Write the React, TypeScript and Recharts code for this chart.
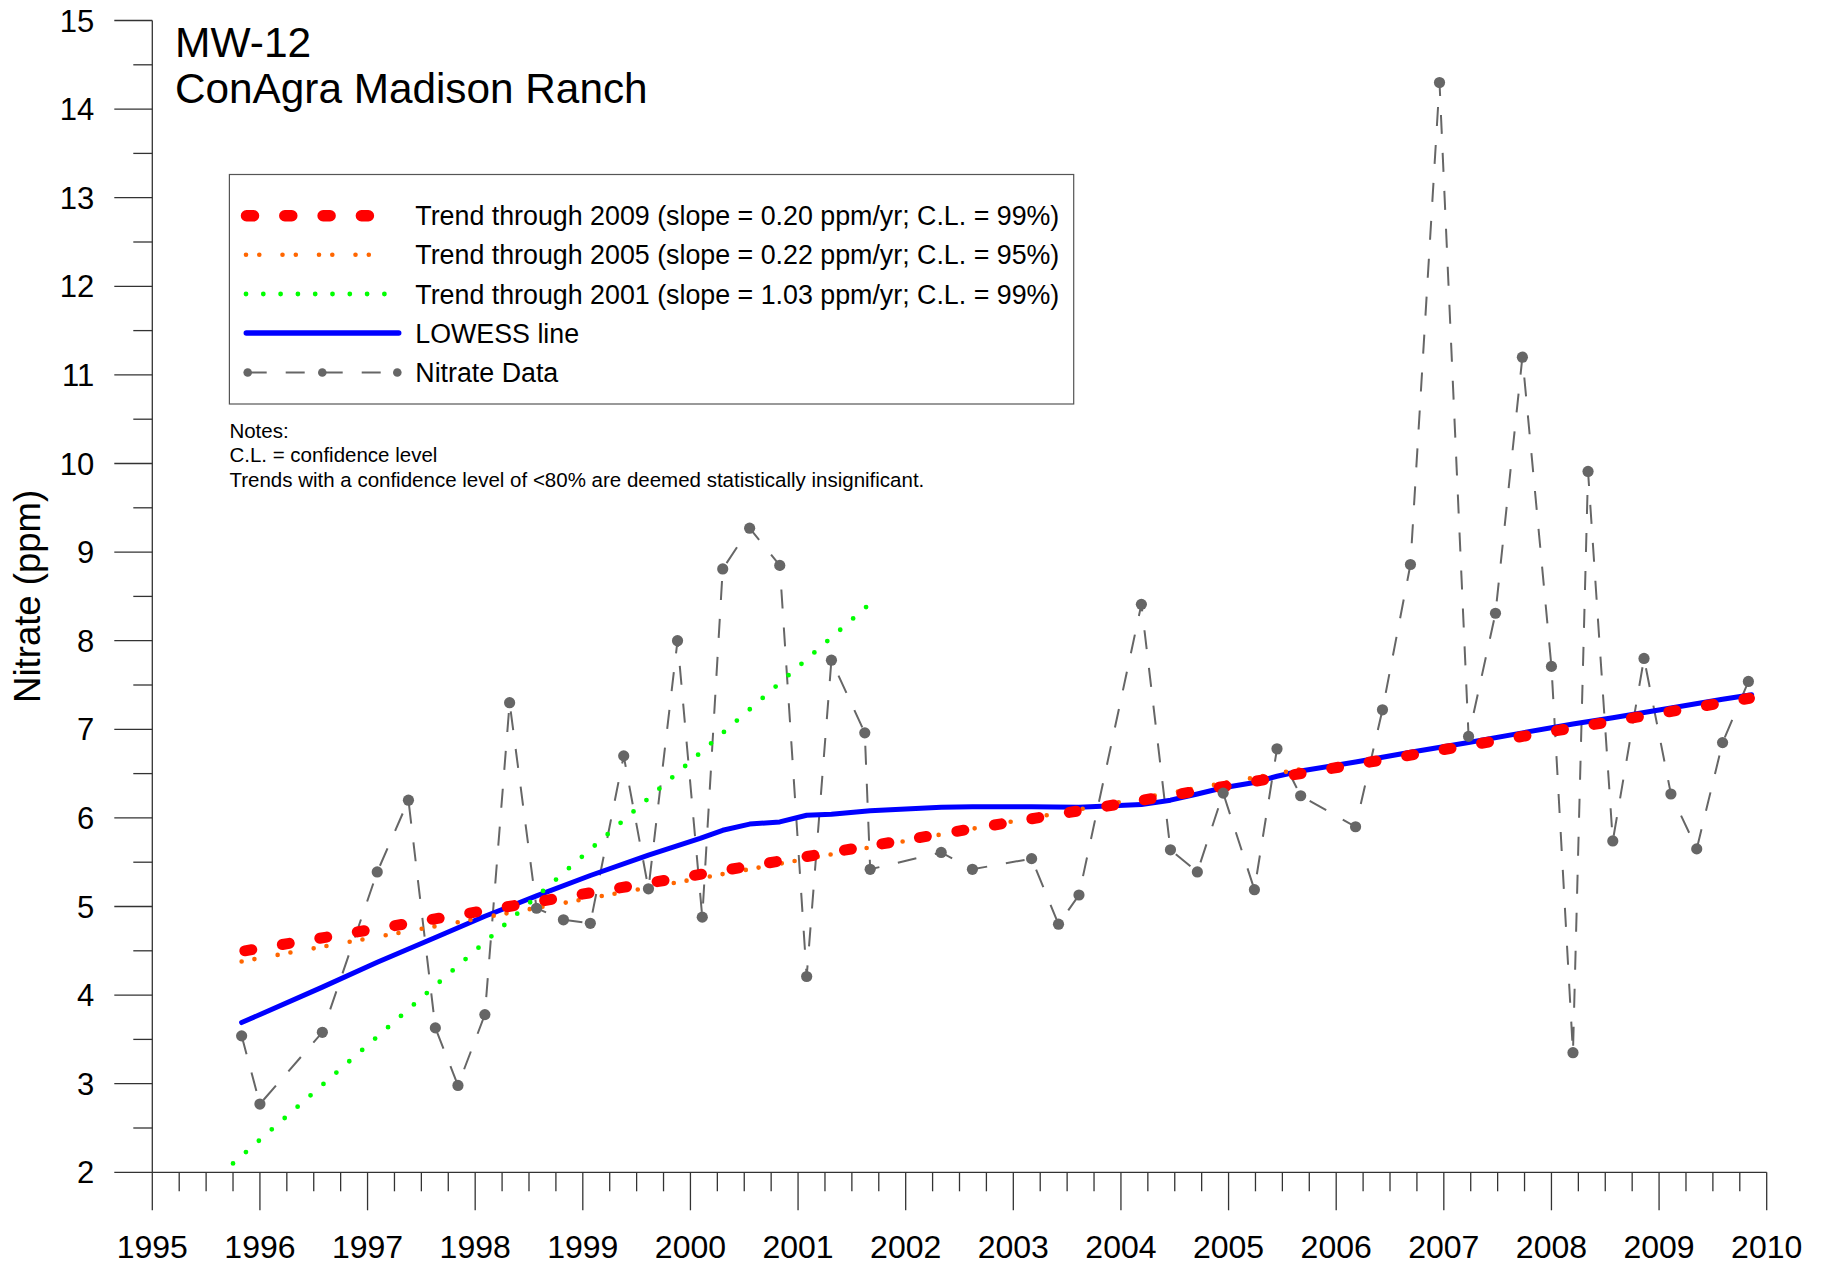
import React from 'react';
import { LineChart, Line, XAxis, YAxis } from 'recharts';

// ---- Data ----
const nitrateDates = [
  1995.83, 1996.0, 1996.58, 1997.09, 1997.38, 1997.63, 1997.84, 1998.09, 1998.32, 1998.57,
  1998.82, 1999.07, 1999.38, 1999.61, 1999.88, 2000.11, 2000.3, 2000.55, 2000.83, 2001.08,
  2001.31, 2001.62, 2001.67, 2002.33, 2002.62, 2003.17, 2003.42, 2003.61, 2004.19, 2004.46,
  2004.71, 2004.95, 2005.24, 2005.45, 2005.67, 2006.18, 2006.43, 2006.69, 2006.96, 2007.23,
  2007.48, 2007.73, 2008.0, 2008.2, 2008.34, 2008.57, 2008.86, 2009.11, 2009.35, 2009.59,
  2009.83,
];
const nitrateValues = [
  3.54, 2.77, 3.58, 5.39, 6.2, 3.63, 2.98, 3.78, 7.3, 4.98,
  4.85, 4.81, 6.7, 5.2, 8.0, 4.88, 8.81, 9.27, 8.85, 4.21,
  7.78, 6.96, 5.42, 5.61, 5.42, 5.54, 4.8, 5.13, 8.41, 5.64,
  5.39, 6.28, 5.19, 6.78, 6.25, 5.9, 7.22, 8.86, 14.3, 6.92,
  8.31, 11.2, 7.71, 3.35, 9.91, 5.74, 7.8, 6.27, 5.65, 6.85,
  7.54,
];

const lowessDates = [
  1995.83, 1996.58, 1997.09, 1997.63, 1998.09, 1998.57, 1999.07, 1999.61, 2000.09, 2000.3,
  2000.55, 2000.83, 2001.08, 2001.31, 2001.67, 2002.33, 2002.62, 2003.17, 2003.61, 2004.19,
  2004.46, 2004.71, 2004.95, 2005.24, 2005.45, 2005.67, 2006.18, 2006.69, 2007.23, 2007.73,
  2008.2, 2008.57, 2009.11, 2009.59, 2009.86,
];
const lowessValues = [
  3.69, 4.09, 4.37, 4.65, 4.89, 5.12, 5.35, 5.58, 5.77, 5.86,
  5.93, 5.955, 6.03, 6.04, 6.08, 6.12, 6.125, 6.125, 6.12, 6.15,
  6.2, 6.27, 6.34, 6.4, 6.47, 6.53, 6.63, 6.74, 6.85, 6.96,
  7.06, 7.13, 7.24, 7.34, 7.39,
];

const trend2009Dates = [1995.86, 2009.84];
const trend2009Values = [4.5, 7.35];
const trend2005Dates = [1995.83, 2005.67];
const trend2005Values = [4.38, 6.55];
const trend2001Dates = [1995.75, 2001.66];
const trend2001Values = [2.1, 8.41];

const yearTicks = [1995, 1996, 1997, 1998, 1999, 2000, 2001, 2002, 2003, 2004, 2005, 2006, 2007, 2008, 2009, 2010];
const quarterOffsets = [0, 0.25, 0.5, 0.75];
const valueTicks = [2, 3, 4, 5, 6, 7, 8, 9, 10, 11, 12, 13, 14, 15];
const halfOffsets = [0, 0.5];

const legendLabels = [
  'Trend through 2009 (slope = 0.20 ppm/yr; C.L. = 99%)',
  'Trend through 2005 (slope = 0.22 ppm/yr; C.L. = 95%)',
  'Trend through 2001 (slope = 1.03 ppm/yr; C.L. = 99%)',
  'LOWESS line',
  'Nitrate Data',
];
const notes = [
  'Notes:',
  'C.L. = confidence level',
  'Trends with a confidence level of <80% are deemed statistically insignificant.',
];

// ---- Derived tables ----
const zip = (ds: number[], vs: number[]) => ds.map((d, i) => ({ date: d, value: vs[i] }));
const nitrateData = zip(nitrateDates, nitrateValues);
const lowessData = zip(lowessDates, lowessValues);
const trend2009Data = zip(trend2009Dates, trend2009Values);
const trend2005Data = zip(trend2005Dates, trend2005Values);
const trend2001Data = zip(trend2001Dates, trend2001Values);

const xTicks: number[] = [];
yearTicks.forEach((y, i) => {
  quarterOffsets.forEach((q) => {
    if (i < yearTicks.length - 1 || q === 0) xTicks.push(y + q);
  });
});
const yTicks: number[] = [];
valueTicks.forEach((v, i) => {
  halfOffsets.forEach((h) => {
    if (i < valueTicks.length - 1 || h === 0) yTicks.push(v + h);
  });
});

const FONT = '"Liberation Sans", Arial, Helvetica, sans-serif';
const AXIS = '#333333';

const XTick = (props: any) => {
  const { x, y, payload } = props;
  const v = payload.value as number;
  const major = Math.abs(v - Math.round(v)) < 1e-6;
  return (
    <g>
      <line x1={x} x2={x} y1={y} y2={y + (major ? 38 : 19)} stroke={AXIS} strokeWidth={1.3} />
      {major && (
        <text x={x} y={y + 86} textAnchor="middle" fontSize={32} fontFamily={FONT} fill="#000">
          {Math.round(v)}
        </text>
      )}
    </g>
  );
};

const YTick = (props: any) => {
  const { x, y, payload } = props;
  const v = payload.value as number;
  const major = Math.abs(v - Math.round(v)) < 1e-6;
  return (
    <g>
      <line x1={x - (major ? 38 : 19)} x2={x} y1={y} y2={y} stroke={AXIS} strokeWidth={1.3} />
      {major && (
        <text x={x - 58} y={y + 11} textAnchor="end" fontSize={31} fontFamily={FONT} fill="#000">
          {Math.round(v)}
        </text>
      )}
    </g>
  );
};

const YLabel = (props: any) => {
  const vb = props.viewBox || { y: 20.5, height: 1151.8 };
  const cy = vb.y + vb.height / 2;
  const cx = 28;
  return (
    <text
      x={cx}
      y={cy}
      transform={`rotate(-90 ${cx} ${cy})`}
      textAnchor="middle"
      dominantBaseline="central"
      fontSize={36.5}
      fontFamily={FONT}
      fill="#000"
    >
      Nitrate (ppm)
    </text>
  );
};

const Overlay = () => {
  const rowY = [215.7, 254.7, 294, 333, 372.5];
  return (
    <svg
      width={1826}
      height={1267}
      style={{ position: 'absolute', left: 0, top: 0, pointerEvents: 'none' }}
    >
      <text x={175} y={57} fontSize={42.5} fontFamily={FONT} fill="#000">MW-12</text>
      <text x={175} y={102.5} fontSize={42.3} fontFamily={FONT} fill="#000">ConAgra Madison Ranch</text>

      <rect x={229.4} y={174.5} width={844.3} height={229.5} fill="#fff" stroke="#555" strokeWidth={1.2} />
      {/* swatches */}
      <line x1={246.5} x2={369} y1={rowY[0]} y2={rowY[0]} stroke="#ff0000" strokeWidth={11.5}
        strokeDasharray="7 31.3" strokeLinecap="round" />
      <line x1={246} x2={392} y1={rowY[1]} y2={rowY[1]} stroke="#ff6600" strokeWidth={4.6}
        strokeDasharray="0 13.3 0 23.2" strokeLinecap="round" />
      <line x1={246} x2={385} y1={rowY[2]} y2={rowY[2]} stroke="#00ff00" strokeWidth={4.8}
        strokeDasharray="0 17.3" strokeLinecap="round" />
      <line x1={246.3} x2={398.7} y1={rowY[3]} y2={rowY[3]} stroke="#0000ff" strokeWidth={5.5}
        strokeLinecap="round" />
      <line x1={247.7} x2={397.3} y1={rowY[4]} y2={rowY[4]} stroke="#666666" strokeWidth={2}
        strokeDasharray="19 19" />
      <circle cx={247.7} cy={rowY[4]} r={4.3} fill="#666666" />
      <circle cx={322.3} cy={rowY[4]} r={4.3} fill="#666666" />
      <circle cx={397.3} cy={rowY[4]} r={4.3} fill="#666666" />
      {legendLabels.map((t, i) => (
        <text key={t} x={415.3} y={rowY[i] + 9.5} fontSize={26.8} fontFamily={FONT} fill="#000">
          {t}
        </text>
      ))}

      {notes.map((t, i) => (
        <text key={t} x={229.4} y={437.8 + i * 24.5} fontSize={20.5} fontFamily={FONT} fill="#000">
          {t}
        </text>
      ))}
    </svg>
  );
};

export default function App() {
  return (
    <div style={{ position: 'absolute', left: 0, top: 0, width: 1826, height: 1267, background: '#fff' }}>
      <LineChart
        width={1826}
        height={1267}
        margin={{ top: 20.5, right: 59.3, bottom: 0, left: 0.3 }}
      >
        <XAxis
          dataKey="date"
          type="number"
          domain={[1995, 2010]}
          ticks={xTicks}
          interval={0}
          allowDataOverflow
          height={94.7}
          tickSize={0}
          tickMargin={0}
          tickLine={false}
          axisLine={{ stroke: AXIS, strokeWidth: 1.3 }}
          tick={XTick}
        />
        <YAxis
          dataKey="value"
          type="number"
          domain={[2, 15]}
          ticks={yTicks}
          interval={0}
          allowDataOverflow
          width={152}
          tickSize={0}
          tickMargin={0}
          tickLine={false}
          axisLine={{ stroke: AXIS, strokeWidth: 1.3 }}
          tick={YTick}
          label={<YLabel />}
        />
        <Line
          data={nitrateData}
          dataKey="value"
          type="linear"
          stroke="#666666"
          strokeWidth={2}
          strokeDasharray="19 19"
          dot={{ r: 5.6, fill: '#666666', stroke: '#666666', strokeWidth: 0, strokeDasharray: '0' }}
          activeDot={false}
          isAnimationActive={false}
        />
        <Line
          data={lowessData}
          dataKey="value"
          type="linear"
          stroke="#0000ff"
          strokeWidth={5}
          strokeLinejoin="round"
          strokeLinecap="round"
          dot={false}
          activeDot={false}
          isAnimationActive={false}
        />
        <Line
          data={trend2001Data}
          dataKey="value"
          type="linear"
          stroke="#00ff00"
          strokeWidth={4.8}
          strokeDasharray="0 17.2"
          strokeLinecap="round"
          dot={false}
          activeDot={false}
          isAnimationActive={false}
        />
        <Line
          data={trend2005Data}
          dataKey="value"
          type="linear"
          stroke="#ff6600"
          strokeWidth={4.6}
          strokeDasharray="0 13 0 23.6"
          strokeLinecap="round"
          dot={false}
          activeDot={false}
          isAnimationActive={false}
        />
        <Line
          data={trend2009Data}
          dataKey="value"
          type="linear"
          stroke="#ff0000"
          strokeWidth={11}
          strokeDasharray="7 31"
          strokeLinecap="round"
          dot={false}
          activeDot={false}
          isAnimationActive={false}
        />
      </LineChart>
      <Overlay />
    </div>
  );
}
